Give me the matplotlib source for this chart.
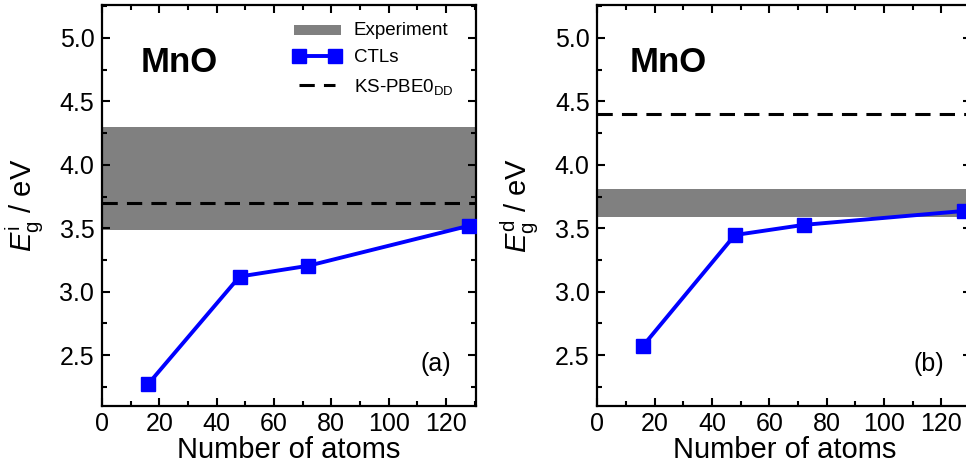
import matplotlib
matplotlib.use('Agg')
import matplotlib.pyplot as plt
from matplotlib.ticker import MultipleLocator

plt.rcParams['font.family'] = ['Liberation Sans', 'DejaVu Sans']
plt.rcParams['mathtext.fontset'] = 'custom'
plt.rcParams['mathtext.rm'] = 'Liberation Sans'
plt.rcParams['mathtext.it'] = 'Liberation Sans:italic'
plt.rcParams['mathtext.bf'] = 'Liberation Sans:bold'

atoms = [16, 48, 72, 128]

# panel (a): indirect gap
ctl_indirect = [2.27, 3.12, 3.205, 3.52]
exp_indirect = (3.49, 4.30)
ks_indirect = 3.70

# panel (b): direct gap
ctl_direct = [2.575, 3.447, 3.527, 3.637]
exp_direct = (3.59, 3.81)
ks_direct = 4.40

panels = [
    ('i', ctl_indirect, exp_indirect, ks_indirect, '(a)', 0.104, 0.933),
    ('d', ctl_direct, exp_direct, ks_direct, '(b)', 0.087, 0.927),
]


def draw_panel(ax, sup, ctl, band, ks, tag, name_x, tag_x, legend):
    ax.axhspan(band[0], band[1], color='#808080', lw=0, zorder=1,
               label='Experiment')
    ax.plot(atoms, ctl, color='#0000ff', lw=2.8, marker='s', ms=10.5,
            zorder=3, label='CTLs')
    ax.axhline(ks, color='black', lw=2.2, ls=(0, (5, 3)), zorder=2,
               label=r'KS-PBE0$_\mathrm{DD}$')

    ax.set_xlim(0, 130.5)
    ax.set_ylim(2.1, 5.26)
    ax.xaxis.set_major_locator(MultipleLocator(20))
    ax.xaxis.set_minor_locator(MultipleLocator(10))
    ax.yaxis.set_major_locator(MultipleLocator(0.5))
    ax.yaxis.set_minor_locator(MultipleLocator(0.25))
    ax.tick_params(which='both', direction='in', top=True, right=True,
                   labelsize=18, width=1.5)
    ax.tick_params(axis='x', pad=4.5)
    ax.tick_params(axis='y', pad=5.5)
    ax.tick_params(which='major', length=6)
    ax.tick_params(which='minor', length=3.5)
    for sp in ax.spines.values():
        sp.set_linewidth(1.6)

    ax.set_xlabel('Number of atoms', fontsize=21, labelpad=0)
    ax.set_ylabel(r'$E_\mathrm{g}^\mathrm{%s}$ / eV' % sup, fontsize=21,
                  labelpad=10)
    ax.text(name_x, 0.833, 'MnO', transform=ax.transAxes, fontsize=25,
            fontweight='bold', va='baseline')
    ax.text(tag_x, 0.075, tag, transform=ax.transAxes, fontsize=18,
            ha='right', va='bottom')

    if legend:
        handles, labels = ax.get_legend_handles_labels()
        leg = ax.legend(handles, labels, loc='upper right',
                        bbox_to_anchor=(0.985, 1.0), frameon=False,
                        fontsize=13.5, numpoints=2, handlelength=2.5,
                        handletextpad=0.7, labelspacing=0.55)
        leg.legend_handles[0].set_height(7)


fig = plt.figure(figsize=(9.66, 4.74), dpi=100)
ax1 = fig.add_axes([0.1056, 0.1435, 0.3872, 0.846])
ax2 = fig.add_axes([0.6183, 0.1435, 0.3872, 0.846])

for ax, (sup, ctl, band, ks, tag, nx, tx) in zip([ax1, ax2], panels):
    draw_panel(ax, sup, ctl, band, ks, tag, nx, tx, legend=(ax is ax1))

fig.savefig('out.png', dpi=100)
